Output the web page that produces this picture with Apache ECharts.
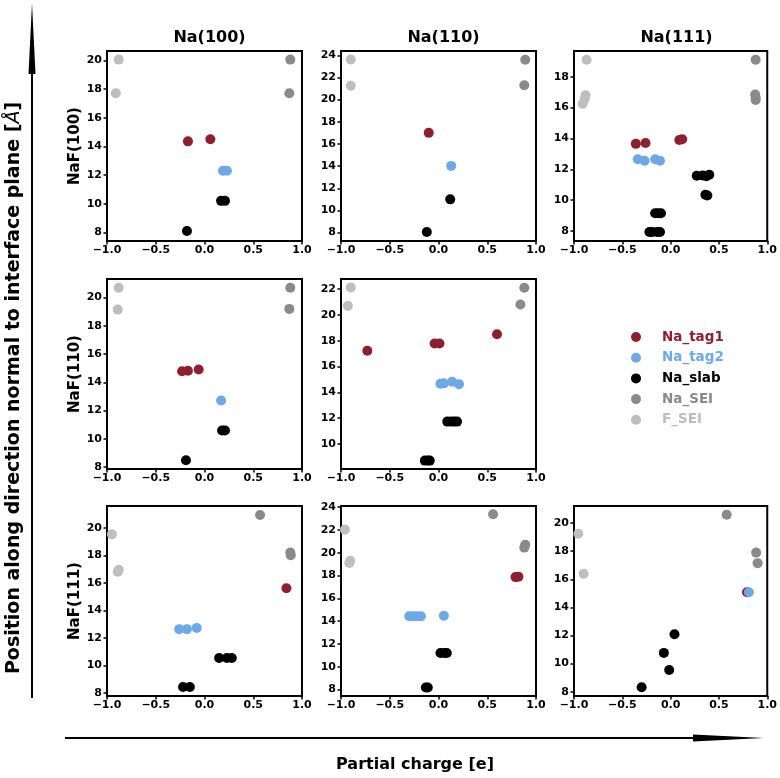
<!DOCTYPE html>
<html><head><meta charset="utf-8">
<script src="https://cdn.jsdelivr.net/npm/echarts@6/dist/echarts.min.js"></script>
<style>html,body{margin:0;padding:0;background:#fff}#c{width:780px;height:778px}</style>
</head><body><div id="c"></div>
<script>
// ---------- names / labels ----------
const seriesNames = ['Na_tag1', 'Na_tag2', 'Na_slab', 'Na_SEI', 'F_SEI'];
const colTitles = ['Na(100)', 'Na(110)', 'Na(111)'];
const rowTitles = ['NaF(100)', 'NaF(110)', 'NaF(111)'];
const xAxisTitle = 'Partial charge [e]';

// ---------- panel A: NaF(100) / Na(100) ----------
const yRangeA = [7.4, 20.65];
const yTicksA = [8, 10, 12, 14, 16, 18, 20];
const tag1A = [[-0.17, 14.35], [0.06, 14.5]];
const tag2A = [[0.19, 12.3], [0.23, 12.3]];
const slabA = [[0.17, 10.2], [0.21, 10.2], [-0.18, 8.1]];
const seiA = [[0.88, 20.05], [0.87, 17.7]];
const fA = [[-0.88, 20.05], [-0.91, 17.7]];

// ---------- panel B: NaF(100) / Na(110) ----------
const yRangeB = [7.24, 24.39];
const yTicksB = [8, 10, 12, 14, 16, 18, 20, 22, 24];
const tag1B = [[-0.1, 17.0]];
const tag2B = [[0.13, 14.02]];
const slabB = [[0.12, 11.0], [-0.12, 8.05]];
const seiB = [[0.89, 23.6], [0.88, 21.3]];
const fB = [[-0.9, 23.62], [-0.9, 21.25]];

// ---------- panel C: NaF(100) / Na(111) ----------
const yRangeC = [7.35, 19.67];
const yTicksC = [8, 10, 12, 14, 16, 18];
const tag1C = [[-0.36, 13.65], [-0.26, 13.7], [0.09, 13.9], [0.12, 13.95]];
const tag2C = [[-0.34, 12.65], [-0.27, 12.55], [-0.16, 12.65], [-0.11, 12.55]];
const slabC = [[0.27, 11.58], [0.33, 11.6], [0.37, 11.55], [0.40, 11.65], [0.36, 10.35], [0.38, 10.3],
               [-0.16, 9.15], [-0.13, 9.15], [-0.1, 9.15], [-0.22, 7.93], [-0.19, 7.93], [-0.14, 7.93], [-0.11, 7.93]];
const seiC = [[0.88, 19.1], [0.875, 16.85], [0.88, 16.65], [0.88, 16.5]];
const fC = [[-0.87, 19.1], [-0.88, 16.8], [-0.89, 16.55], [-0.91, 16.25]];

// ---------- panel D: NaF(110) / Na(100) ----------
const yRangeD = [7.85, 21.32];
const yTicksD = [8, 10, 12, 14, 16, 18, 20];
const tag1D = [[-0.23, 14.78], [-0.17, 14.82], [-0.06, 14.9]];
const tag2D = [[0.17, 12.7]];
const slabD = [[0.18, 10.58], [0.21, 10.58], [-0.19, 8.47]];
const seiD = [[0.88, 20.7], [0.87, 19.2]];
const fD = [[-0.88, 20.7], [-0.89, 19.15]];

// ---------- panel E: NaF(110) / Na(110) ----------
const yRangeE = [8.07, 22.78];
const yTicksE = [10, 12, 14, 16, 18, 20, 22];
const tag1E = [[-0.73, 17.23], [-0.04, 17.78], [0.01, 17.78], [0.6, 18.5]];
const tag2E = [[0.02, 14.67], [0.055, 14.7], [0.14, 14.82], [0.21, 14.64]];
const slabE = [[0.09, 11.74], [0.13, 11.74], [0.16, 11.74], [0.19, 11.74], [-0.14, 8.72], [-0.11, 8.72], [-0.09, 8.72]];
const seiE = [[0.88, 22.1], [0.84, 20.8]];
const fE = [[-0.9, 22.13], [-0.93, 20.7]];

// ---------- panel G: NaF(111) / Na(100) ----------
const yRangeG = [7.77, 21.58];
const yTicksG = [8, 10, 12, 14, 16, 18, 20];
const tag1G = [[0.84, 15.6]];
const tag2G = [[-0.26, 12.63], [-0.18, 12.63], [-0.08, 12.72]];
const slabG = [[0.15, 10.53], [0.23, 10.53], [0.28, 10.53], [-0.22, 8.43], [-0.15, 8.43]];
const seiG = [[0.57, 20.92], [0.88, 18.2], [0.885, 18.0]];
const fG = [[-0.95, 19.52], [-0.89, 16.8], [-0.88, 16.95]];

// ---------- panel H: NaF(111) / Na(110) ----------
const yRangeH = [7.43, 24.1];
const yTicksH = [8, 10, 12, 14, 16, 18, 20, 22, 24];
const tag1H = [[0.79, 17.86], [0.82, 17.9]];
const tag2H = [[-0.3, 14.43], [-0.26, 14.43], [-0.22, 14.43], [-0.18, 14.43], [0.055, 14.48]];
const slabH = [[0.02, 11.2], [0.06, 11.2], [0.085, 11.2], [-0.13, 8.18], [-0.11, 8.18]];
const seiH = [[0.56, 23.38], [0.89, 20.7], [0.88, 20.45]];
const fH = [[-0.96, 22.03], [-0.915, 19.1], [-0.905, 19.3]];

// ---------- panel I: NaF(111) / Na(111) ----------
const yRangeI = [7.69, 21.22];
const yTicksI = [8, 10, 12, 14, 16, 18, 20];
const tag1I = [[0.79, 15.08]];
const tag2I = [[0.81, 15.08]];
const slabI = [[0.04, 12.09], [-0.07, 10.76], [-0.015, 9.54], [-0.3, 8.31]];
const seiI = [[0.58, 20.6], [0.885, 17.9], [0.9, 17.15]];
const fI = [[-0.955, 19.24], [-0.9, 16.39]];

// ---------- assembly ----------
const panels = [
  {row: 0, col: 0, yr: yRangeA, yt: yTicksA, sets: [tag1A, tag2A, slabA, seiA, fA]},
  {row: 0, col: 1, yr: yRangeB, yt: yTicksB, sets: [tag1B, tag2B, slabB, seiB, fB]},
  {row: 0, col: 2, yr: yRangeC, yt: yTicksC, sets: [tag1C, tag2C, slabC, seiC, fC]},
  {row: 1, col: 0, yr: yRangeD, yt: yTicksD, sets: [tag1D, tag2D, slabD, seiD, fD]},
  {row: 1, col: 1, yr: yRangeE, yt: yTicksE, sets: [tag1E, tag2E, slabE, seiE, fE]},
  {row: 2, col: 0, yr: yRangeG, yt: yTicksG, sets: [tag1G, tag2G, slabG, seiG, fG]},
  {row: 2, col: 1, yr: yRangeH, yt: yTicksH, sets: [tag1H, tag2H, slabH, seiH, fH]},
  {row: 2, col: 2, yr: yRangeI, yt: yTicksI, sets: [tag1I, tag2I, slabI, seiI, fI]}
];

const colors = ['#8E1F2F', '#6EA8E6', '#000000', '#8A8A8A', '#BEBEBE'];
const FONT = 'DejaVu Sans';
const gridLeft = [107, 341, 574];
const gridTop = [51, 279, 506];
const GW = 195, GH = 190;

const grids = [], xAxes = [], yAxes = [], series = [];
panels.forEach((p, i) => {
  grids.push({left: gridLeft[p.col], top: gridTop[p.row], width: GW, height: GH,
    show: true, borderColor: '#000', borderWidth: 2, backgroundColor: '#fff'});
  xAxes.push({type: 'value', gridIndex: i, min: -1, max: 1, interval: 0.5,
    axisLine: {show: true, onZero: false, lineStyle: {color: '#000', width: 2}},
    axisTick: {show: true, length: 3.5, lineStyle: {color: '#000', width: 1.5}},
    splitLine: {show: false},
    axisLabel: {color: '#000', fontFamily: FONT, fontWeight: 'bold', fontSize: 11, margin: 4,
      showMinLabel: true, showMaxLabel: true, hideOverlap: false,
      formatter: v => (v < 0 ? '\u2212' : '') + Math.abs(v).toFixed(1)}});
  yAxes.push({type: 'value', gridIndex: i, min: p.yr[0], max: p.yr[1],
    axisLine: {show: true, onZero: false, lineStyle: {color: '#000', width: 2}},
    axisTick: {show: true, length: 3.5, customValues: p.yt, lineStyle: {color: '#000', width: 1.5}},
    splitLine: {show: false},
    axisLabel: {color: '#000', fontFamily: FONT, fontWeight: 'bold', fontSize: 11, margin: 5,
      customValues: p.yt, formatter: v => String(Math.round(v))}});
  p.sets.forEach((d, k) => {
    series.push({type: 'scatter', name: seriesNames[k], xAxisIndex: i, yAxisIndex: i,
      data: d, symbol: 'circle', symbolSize: 10, z: 2 + k,
      itemStyle: {color: colors[k], opacity: 1}, emphasis: {disabled: true}});
  });
});

const titles = colTitles.map((t, c) => ({text: t, left: gridLeft[c] + GW / 2, top: 25, textAlign: 'center',
  textStyle: {fontFamily: FONT, fontWeight: 'bold', fontSize: 16, color: '#000'}}));

const graphic = [];
rowTitles.forEach((t, r) => {
  graphic.push({type: 'text', x: 75, y: gridTop[r] + GH / 2, rotation: Math.PI / 2,
    style: {text: t, font: 'bold 15px "DejaVu Sans"', fill: '#000', textAlign: 'center', textVerticalAlign: 'middle'}});
});
// big y label
graphic.push({type: 'text', x: 14, y: 388, rotation: Math.PI / 2,
  style: {text: '{n|Position along direction normal to interface plane [}{i|Å}{n|]}',
    textAlign: 'center', textVerticalAlign: 'middle',
    rich: {n: {fontFamily: FONT, fontWeight: 'bold', fontSize: 19, color: '#000'},
           i: {fontFamily: FONT, fontStyle: 'italic', fontSize: 19, color: '#000'}}}});
// x label
graphic.push({type: 'text', x: 415, y: 765,
  style: {text: xAxisTitle, font: 'bold 16px "DejaVu Sans"', fill: '#000', textAlign: 'center', textVerticalAlign: 'middle'}});
// arrows
graphic.push({type: 'line', shape: {x1: 32, y1: 698, x2: 32, y2: 70}, style: {stroke: '#000', lineWidth: 2}});
graphic.push({type: 'polygon', shape: {points: [[28.5, 74], [35.5, 74], [32, 3]]}, style: {fill: '#000'}});
graphic.push({type: 'line', shape: {x1: 65, y1: 738, x2: 696, y2: 738}, style: {stroke: '#000', lineWidth: 2}});
graphic.push({type: 'polygon', shape: {points: [[693, 734.5], [693, 741.5], [764, 738]]}, style: {fill: '#000'}});

const chart = echarts.init(document.getElementById('c'), null, {renderer: 'canvas'});
chart.setOption({
  animation: false,
  backgroundColor: '#fff',
  title: titles,
  legend: {orient: 'vertical', left: 626, top: 325, itemWidth: 42, itemHeight: 10, itemGap: 6.7,
    icon: 'circle', selectedMode: false,
    textStyle: {fontFamily: FONT, fontWeight: 'bold', fontSize: 13.5, lineHeight: 14},
    data: seriesNames.map((n, k) => ({name: n, textStyle: {color: colors[k]}}))},
  grid: grids, xAxis: xAxes, yAxis: yAxes, series: series, graphic: graphic
});
</script></body></html>
